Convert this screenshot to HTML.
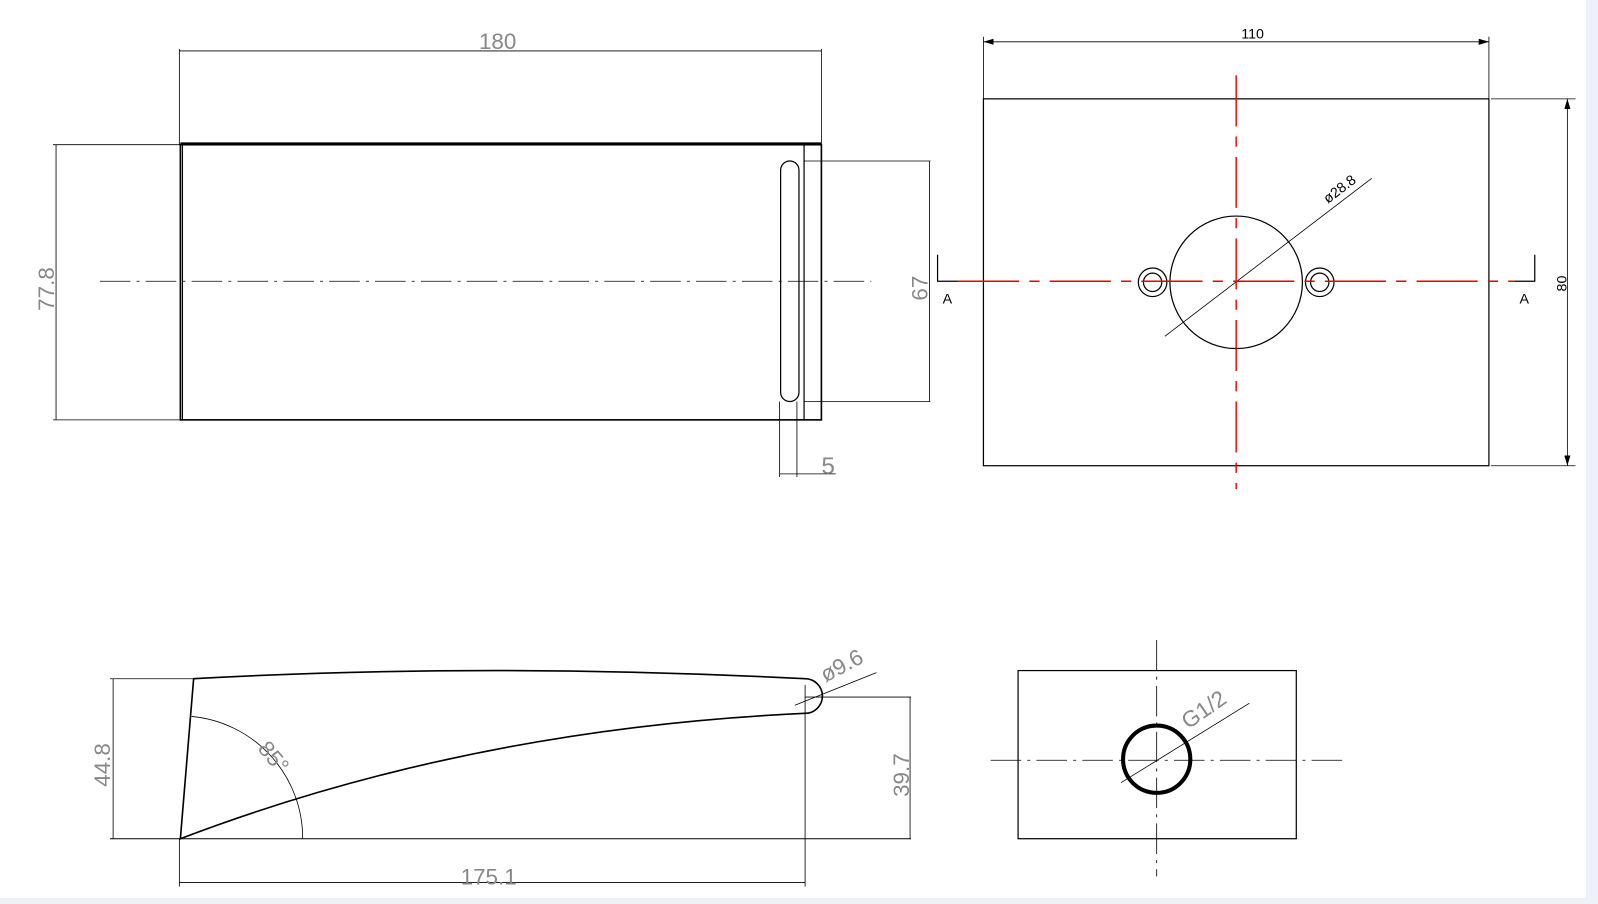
<!DOCTYPE html>
<html><head><meta charset="utf-8"><style>
html,body{margin:0;padding:0;background:#eef2f8;}
svg{display:block}
text{font-family:"Liberation Sans",sans-serif;}
</style></head><body>
<svg width="1598" height="904" viewBox="0 0 1598 904" xmlns="http://www.w3.org/2000/svg">
<defs>
<marker id="ar" markerWidth="10" markerHeight="6" refX="10" refY="3" orient="auto-start-reverse" markerUnits="userSpaceOnUse"><path d="M0,0 L10,3 L0,6 Z" fill="#000"/></marker>
</defs>
<rect x="0" y="0" width="1586" height="898" fill="#fff"/>
<g transform="scale(1.0191)">
<g stroke="#000" fill="none" stroke-width="1.2">
<rect x="177" y="142" width="629" height="270" stroke-width="1.6"/>
<line x1="179" y1="142" x2="179" y2="412"/>
<line x1="789" y1="142" x2="789" y2="412"/>
<line x1="177" y1="141" x2="806" y2="141" stroke-width="2.5"/>
<rect x="766" y="158" width="18" height="236" rx="9"/>
<line x1="176" y1="48" x2="176" y2="142" stroke-width="0.8"/>
<line x1="806" y1="48" x2="806" y2="142" stroke-width="0.8"/>
<line x1="176" y1="50" x2="806" y2="50" stroke-width="0.8"/>
<line x1="52" y1="142" x2="177" y2="142" stroke-width="0.8"/>
<line x1="52" y1="412" x2="177" y2="412" stroke-width="0.8"/>
<line x1="55" y1="142" x2="55" y2="412" stroke-width="0.8"/>
<line x1="789" y1="158" x2="913" y2="158" stroke-width="0.8"/>
<line x1="789" y1="394" x2="913" y2="394" stroke-width="0.8"/>
<line x1="912" y1="158" x2="912" y2="394" stroke-width="0.8"/>
<line x1="765" y1="394" x2="765" y2="468" stroke-width="0.8"/>
<line x1="782" y1="394" x2="782" y2="468" stroke-width="0.8"/>
<line x1="765" y1="465" x2="820" y2="465" stroke-width="0.8"/>
<line x1="98" y1="276" x2="855" y2="276" stroke-width="0.8" stroke-dasharray="30,6,3,6"/>
<rect x="965" y="97" width="496" height="360"/>
<line x1="965" y1="36" x2="965" y2="97" stroke-width="0.8"/>
<line x1="1461" y1="36" x2="1461" y2="97" stroke-width="0.8"/>
<line x1="965" y1="41" x2="1461" y2="41" stroke-width="0.8" marker-start="url(#ar)" marker-end="url(#ar)"/>
<line x1="1463" y1="97" x2="1546" y2="97" stroke-width="0.8"/>
<line x1="1463" y1="457" x2="1546" y2="457" stroke-width="0.8"/>
<line x1="1538" y1="97" x2="1538" y2="457" stroke-width="0.8" marker-start="url(#ar)" marker-end="url(#ar)"/>
<circle cx="1213" cy="277" r="65"/>
<circle cx="1131" cy="277" r="14"/><circle cx="1131" cy="277" r="9"/>
<circle cx="1295" cy="277" r="14"/><circle cx="1295" cy="277" r="9"/>
<line x1="1143" y1="330" x2="1346" y2="175" stroke-width="0.8"/>
<polyline points="920,250 920,276 940,276"/>
<polyline points="1506,250 1506,276 1486,276"/>
<path d="M177,823 L190,666 Q480,650 790,666 A17,17 0 0 1 790,700 Q460,715 177,823 Z" stroke-width="1.6"/>
<line x1="108" y1="823" x2="894" y2="823" stroke-width="1"/>
<line x1="108" y1="666" x2="190" y2="666" stroke-width="0.8"/>
<line x1="111" y1="666" x2="111" y2="823" stroke-width="0.8"/>
<line x1="790" y1="684" x2="894" y2="684" stroke-width="0.8"/>
<line x1="893" y1="684" x2="893" y2="823" stroke-width="0.8"/>
<line x1="790" y1="672" x2="790" y2="870" stroke-width="0.8"/>
<line x1="176" y1="823" x2="176" y2="870" stroke-width="0.8"/>
<line x1="176" y1="866" x2="790" y2="866" stroke-width="0.8"/>
<path d="M188,703 A120,120 0 0 1 297,823" stroke-width="0.8"/>
<line x1="780" y1="692" x2="860" y2="660" stroke-width="0.8"/>
<rect x="999" y="658" width="273" height="165"/>
<circle cx="1135" cy="745" r="33" stroke-width="4"/>
<line x1="1135" y1="628" x2="1135" y2="860" stroke-width="0.8" stroke-dasharray="30,6,3,6"/>
<line x1="972" y1="746" x2="1318" y2="746" stroke-width="0.8" stroke-dasharray="30,6,3,6"/>
<line x1="1100" y1="768" x2="1226" y2="690" stroke-width="0.8"/>
</g>
<g stroke="#e00" stroke-width="1.4" fill="none">
<line x1="940" y1="276" x2="1486" y2="276" stroke-dasharray="60,10,10,10"/>
<line x1="1213" y1="74" x2="1213" y2="480" stroke-dasharray="50,10,10,10"/>
</g>
<g fill="#888" font-size="22">
<text x="470" y="48">180</text>
<text x="452" y="868">175.1</text>
<text x="806" y="465" font-size="24">5</text>
<text transform="translate(53,305) rotate(-90)">77.8</text>
<text transform="translate(910,295) rotate(-90)">67</text>
<text transform="translate(108,772) rotate(-90)">44.8</text>
<text transform="translate(892,782) rotate(-90)">39.7</text>
<text transform="translate(252,735) rotate(50)">85°</text>
<text transform="translate(810,670) rotate(-28)">ø9.6</text>
<text transform="translate(1166,716) rotate(-35)">G1/2</text>
</g>
<g fill="#000" font-size="14">
<text x="1218" y="38">110</text>
<text transform="translate(1303,200) rotate(-37)">ø28.8</text>
<text x="925" y="298">A</text>
<text x="1491" y="298">A</text>
<text transform="translate(1537,286) rotate(-90)">80</text>
</g>
</g>
</svg>
</body></html>
